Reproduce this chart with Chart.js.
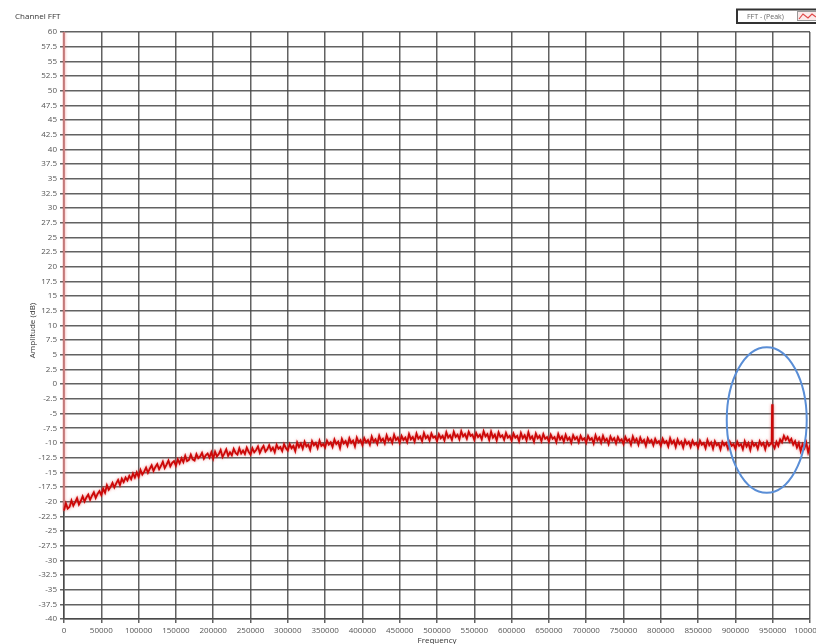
<!DOCTYPE html>
<html>
<head>
<meta charset="utf-8">
<script src="https://cdn.jsdelivr.net/npm/chart.js@4.4.1/dist/chart.umd.min.js"></script>
<style>
  html, body { margin: 0; padding: 0; background: #fff; }
</style>
</head>
<body>
<canvas id="fft" width="816" height="644"></canvas>
<script>
// FFT bins every 2.5 kHz, 0 .. 1 MHz (peak hold trace, dB)
const binStep = 2500;
const amplitudeDb = [
  -21.5, -20.3, -21.2, -20.9, -19.8, -20.7, -20.1, -19.4, -20.5, -19.9,
  -19.1, -20.0, -19.3, -18.8, -19.7, -19.0, -18.4, -19.4, -18.7, -18.2,
  -18.9, -17.8, -18.5, -17.2, -18.0, -17.5, -16.8, -17.6, -16.9, -16.3,
  -17.2, -16.1, -16.7, -15.9, -16.4, -15.6, -16.2, -15.2, -15.9, -15.0,
  -15.8, -14.6, -15.4, -14.9, -14.2, -15.1, -14.4, -13.8, -14.8, -14.1,
  -13.6, -14.5, -13.9, -13.2, -14.3, -13.7, -13.0, -14.0, -13.4, -13.1,
  -13.9, -12.8, -13.5, -12.6, -13.3, -12.2, -13.1, -12.9, -12.0, -12.8,
  -13.0, -11.9, -12.6, -12.3, -11.7, -12.7, -12.1, -11.8, -12.5, -11.6,
  -12.7, -11.5, -12.3, -11.9, -11.2, -12.4, -11.8, -11.1, -12.2, -11.6,
  -12.1, -11.0, -11.7, -12.0, -10.9, -11.8, -11.3, -11.9, -10.8, -11.5,
  -12.0, -10.9, -11.6, -11.2, -10.6, -11.7, -11.0, -10.5, -11.5, -11.1,
  -10.4, -11.3, -10.8, -11.6, -10.3, -11.0, -10.7, -11.4, -10.2, -10.9,
  -11.3, -10.2, -10.9, -10.5, -11.4, -9.9, -10.7, -10.1, -11.0, -9.8,
  -10.6, -10.3, -11.2, -9.7, -10.4, -10.0, -10.9, -9.6, -10.5, -10.2,
  -10.8, -9.6, -10.3, -9.9, -10.7, -9.4, -10.2, -9.8, -10.9, -9.3,
  -10.1, -9.7, -10.5, -9.2, -10.0, -9.6, -10.6, -9.1, -9.9, -9.5,
  -10.4, -9.2, -9.9, -9.5, -10.3, -8.9, -9.8, -9.4, -10.2, -8.8,
  -9.7, -9.3, -10.1, -8.7, -9.6, -9.2, -10.0, -8.6, -9.5, -9.1,
  -10.0, -8.8, -9.5, -9.1, -9.9, -8.5, -9.4, -9.0, -9.8, -8.4,
  -9.3, -8.9, -9.7, -8.3, -9.2, -8.8, -9.6, -8.4, -9.1, -8.9,
  -9.7, -8.5, -9.2, -8.8, -9.6, -8.2, -9.1, -8.7, -9.5, -8.1,
  -9.0, -8.6, -9.4, -8.0, -8.9, -8.5, -9.3, -8.1, -8.8, -8.6,
  -9.5, -8.3, -9.0, -8.6, -9.4, -8.0, -8.9, -8.5, -9.5, -8.1,
  -9.1, -8.6, -9.6, -8.2, -9.0, -8.7, -9.5, -8.3, -9.1, -8.8,
  -9.6, -8.4, -9.1, -8.8, -9.7, -8.3, -9.2, -8.7, -9.6, -8.2,
  -9.3, -8.9, -9.8, -8.4, -9.2, -8.8, -9.7, -8.5, -9.3, -9.0,
  -9.8, -8.6, -9.3, -9.0, -9.9, -8.5, -9.4, -8.9, -9.8, -8.6,
  -9.5, -9.1, -10.0, -8.7, -9.4, -9.0, -9.9, -8.8, -9.5, -9.2,
  -10.0, -8.8, -9.5, -9.2, -10.1, -8.7, -9.6, -9.1, -10.0, -8.8,
  -9.7, -9.3, -10.2, -8.9, -9.6, -9.2, -10.1, -9.0, -9.7, -9.4,
  -10.2, -9.0, -9.7, -9.4, -10.3, -8.9, -9.8, -9.3, -10.3, -9.1,
  -9.9, -9.5, -10.5, -9.2, -9.9, -9.5, -10.4, -9.3, -10.0, -9.7,
  -10.5, -9.3, -10.0, -9.7, -10.6, -9.2, -10.1, -9.6, -10.7, -9.4,
  -10.2, -9.8, -10.8, -9.5, -10.2, -9.8, -10.7, -9.6, -10.3, -10.0,
  -10.8, -9.6, -10.3, -10.0, -10.9, -9.5, -10.4, -9.9, -11.0, -9.7,
  -10.4, -10.1, -11.1, -9.8, -10.4, -10.0, -11.0, -9.8, -10.5, -10.2,
  -11.0, -9.8, -10.5, -10.2, -11.1, -9.7, -10.6, -10.0, -11.2, -9.8,
  -10.5, -10.1, -11.0, -9.7, -10.4, -10.0, -11.1, -9.8, -10.5, -10.1,
  -10.2, -10.9, -9.8, -10.5, -9.4, -9.9, -8.8, -9.5, -9.0, -9.8,
  -9.3, -10.3, -9.7, -10.8, -10.0, -11.4, -10.2, -10.9, -9.9, -11.6,
  -10.4
];
// narrow tone near 950 kHz
const spikeFreq = [948600, 949200, 949800];
const spikeDb = [-10.1, -3.4, -10.2];
// DC bin, off the top of the scale
const dcFreq = [0];
const dcDb = [70];

const xTicksStep = 50000;
const yTicksStep = 2.5;

// marker ellipse round the tone (data units)
const markFreq = 942000, markDb = -6.1, markRx = 53600, markRy = 12.4;

const points = [];
dcFreq.forEach((f, i) => points.push({ x: f, y: dcDb[i] }));
amplitudeDb.forEach((v, i) => points.push({ x: i * binStep, y: v }));
spikeFreq.forEach((f, i) => points.push({ x: f, y: spikeDb[i] }));
points.sort((a, b) => a.x - b.x);

const gridColor = 'rgba(70,70,70,0.85)';
const labelFont = { family: 'Open Sans', size: 8 };

// soft halo round the trace, like the blurry screenshot
const traceGlow = {
  id: 'traceGlow',
  beforeDatasetsDraw(chart) {
    const ctx = chart.ctx;
    ctx.save();
    ctx.shadowColor = 'rgba(225,60,60,0.7)';
    ctx.shadowBlur = 3;
  },
  afterDatasetsDraw(chart) {
    chart.ctx.restore();
  }
};

const decorations = {
  id: 'decorations',
  afterDraw(chart) {
    const ctx = chart.ctx;
    const area = chart.chartArea;
    const xs = chart.scales.x, ys = chart.scales.y;
    ctx.save();

    // title
    ctx.fillStyle = '#333';
    ctx.font = '8px "Open Sans"';
    ctx.textAlign = 'left';
    ctx.textBaseline = 'middle';
    ctx.fillText('Channel FFT', 15, 17);

    // axis titles
    ctx.textAlign = 'center';
    ctx.fillText('Frequency', (area.left + area.right) / 2, 641);
    ctx.save();
    ctx.translate(33, (area.top + area.bottom) / 2 + 5);
    ctx.rotate(-Math.PI / 2);
    ctx.fillText('Amplitude (dB)', 0, 0);
    ctx.restore();

    // legend box
    ctx.strokeStyle = '#333';
    ctx.lineWidth = 2;
    ctx.strokeRect(737, 9.5, 90, 13.5);
    ctx.fillStyle = '#666';
    ctx.font = '7px "Open Sans"';
    ctx.textAlign = 'left';
    ctx.fillText(chart.data.datasets[0].label, 747, 16.5);
    ctx.fillStyle = '#fbeaea';
    ctx.fillRect(797, 11, 20, 10);
    ctx.lineWidth = 1;
    ctx.strokeStyle = '#999';
    ctx.strokeRect(797.5, 11.5, 25, 9);
    ctx.strokeStyle = '#e04848';
    ctx.lineWidth = 1.2;
    ctx.beginPath();
    ctx.moveTo(799, 19); ctx.lineTo(803, 14); ctx.lineTo(808, 18); ctx.lineTo(812, 14); ctx.lineTo(816, 17);
    ctx.stroke();

    // marker ellipse
    const cx = xs.getPixelForValue(markFreq);
    const cy = ys.getPixelForValue(markDb);
    const rx = xs.getPixelForValue(markFreq + markRx) - cx;
    const ry = cy - ys.getPixelForValue(markDb + markRy);
    ctx.strokeStyle = '#5a8ed6';
    ctx.lineWidth = 2;
    ctx.beginPath();
    ctx.ellipse(cx, cy, rx, ry, 0, 0, Math.PI * 2);
    ctx.stroke();

    ctx.restore();
  }
};

new Chart(document.getElementById('fft'), {
  type: 'line',
  data: {
    datasets: [{
      label: 'FFT - (Peak)',
      data: points,
      borderColor: '#cc0808',
      borderWidth: 1.8,
      pointRadius: 0,
      tension: 0,
      clip: { left: 2, top: 0, right: 0, bottom: 0 },
      segment: {
        // DC bin leg is drawn pale
        borderColor: c => (c.p0.parsed.y > 60 ? '#dc8a8a' : undefined),
        borderWidth: c => (c.p0.parsed.y > 60 ? 1.5 : undefined)
      }
    }]
  },
  options: {
    responsive: false,
    animation: false,
    devicePixelRatio: 1,
    layout: { padding: { top: 32, right: 6, left: 0, bottom: 0 } },
    plugins: { legend: { display: false }, tooltip: { enabled: false } },
    scales: {
      x: {
        type: 'linear',
        min: 0,
        max: 1000000,
        grid: { color: gridColor, lineWidth: 1.5, tickLength: 4 },
        border: { color: gridColor, width: 1.5 },
        ticks: {
          stepSize: xTicksStep,
          autoSkip: false,
          maxRotation: 0,
          color: '#555',
          font: labelFont,
          callback: v => String(v)
        },
        afterFit(scale) {
          scale.height = 25;
          scale.paddingLeft = 0;
          scale.paddingRight = 0;
        }
      },
      y: {
        min: -40,
        max: 60,
        grid: { color: gridColor, lineWidth: 1.5, tickLength: 4 },
        border: { color: gridColor, width: 1.5 },
        ticks: {
          stepSize: yTicksStep,
          autoSkip: false,
          color: '#555',
          font: labelFont
        },
        afterFit(scale) {
          scale.width = 64;
          scale.paddingTop = 0;
          scale.paddingBottom = 0;
        }
      }
    }
  },
  plugins: [traceGlow, decorations]
});
</script>
</body>
</html>
